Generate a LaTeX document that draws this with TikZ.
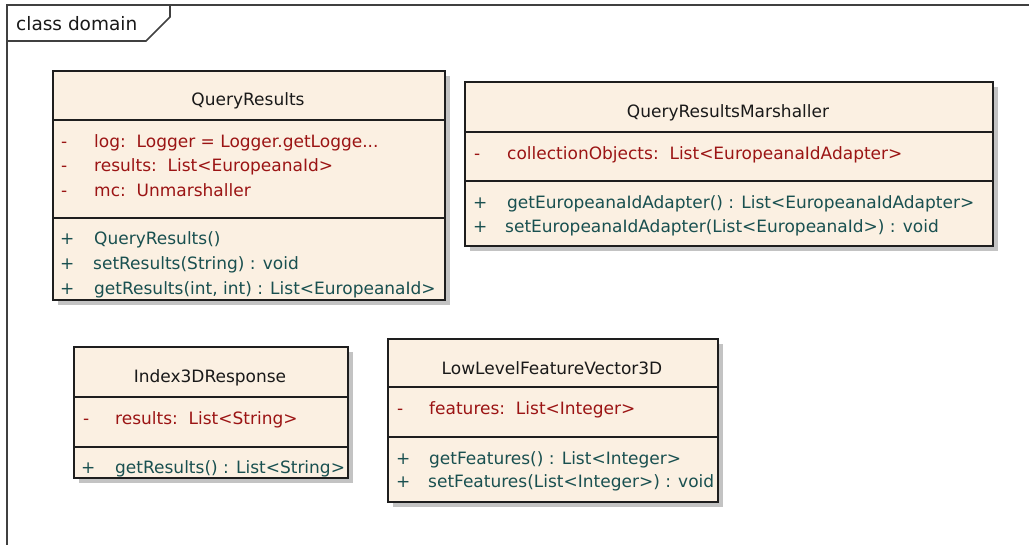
\documentclass[tikz,border=0pt]{standalone}
\usepackage{fontspec}
\setmainfont{DejaVu Sans}
\usetikzlibrary{shadows}
\definecolor{boxfill}{RGB}{251,240,226}
\definecolor{attrcol}{RGB}{155,20,20}
\definecolor{opcol}{RGB}{25,80,80}
\definecolor{framecol}{RGB}{64,64,64}
\definecolor{edgecol}{RGB}{30,30,30}
\definecolor{shadowcol}{RGB}{195,195,195}
\tikzset{
  classbox/.style={draw=edgecol, line width=1.6pt, fill=boxfill, anchor=north west, inner sep=0pt,
    drop shadow={shadow xshift=5pt, shadow yshift=-5pt, fill=shadowcol, opacity=1}},
  divider/.style={draw=edgecol, line width=1.4pt},
  txt/.style={anchor=west, inner sep=0pt, text height=15pt, text depth=1pt, font=\fontsize{17}{20}\selectfont},
  attr/.style={txt, text=attrcol},
  op/.style={txt, text=opcol},
  cname/.style={anchor=center, inner sep=0pt, text height=15pt, text depth=1pt, font=\fontsize{17}{20}\selectfont, text=black!90},
  framebox/.style={draw=framecol, line width=1.6pt}
}
\begin{document}
\begin{tikzpicture}[x=1pt,y=-1pt]
\useasboundingbox (0,0) rectangle (1029,544);
\clip (0,0) rectangle (1029,544);
\fill[white] (0,0) rectangle (1029,544);
% frame
\draw[framebox] (1040,5) -- (7,5) -- (7,560);
\draw[framebox] (7,41) -- (146,41) -- (170,17) -- (170,5);
\node[txt, font=\fontsize{18.5}{21}\selectfont, text=black!90] (title) at (16,23) {class domain};

% QueryResults
\node[classbox, minimum width=392pt, minimum height=229pt] (qr) at (52,70) {};
\draw[divider] (52,120) -- (444,120);
\draw[divider] (52,218) -- (444,218);
\node[cname] (qrn) at (248,98) {QueryResults};
\node[attr] (qra1s) at (61,140) {-};
\node[attr] (qra1) at (94,140) {log:\ \ Logger = Logger.getLogge...};
\node[attr] (qra2s) at (61,164) {-};
\node[attr] (qra2) at (94,164) {results:\ \ List<EuropeanaId>};
\node[attr] (qra3s) at (61,189) {-};
\node[attr] (qra3) at (94,189) {mc:\ \ Unmarshaller};
\node[op] (qro1s) at (60,237) {+};
\node[op] (qro1) at (94,237) {QueryResults()};
\node[op] (qro2s) at (60,262) {+};
\node[op] (qro2) at (93,262) {setResults(String) : void};
\node[op] (qro3s) at (60,287) {+};
\node[op] (qro3) at (94,287) {getResults(int, int) : List<EuropeanaId>};

% QueryResultsMarshaller
\node[classbox, minimum width=528pt, minimum height=164pt] (qrm) at (464,81) {};
\draw[divider] (464,132) -- (992,132);
\draw[divider] (464,181) -- (992,181);
\node[cname] (qrmn) at (728,110) {QueryResultsMarshaller};
\node[attr] (qrma1s) at (474,152) {-};
\node[attr] (qrma1) at (507,152) {collectionObjects:\ \ List<EuropeanaIdAdapter>};
\node[op] (qrmo1s) at (473,201) {+};
\node[op] (qrmo1) at (507,201) {getEuropeanaIdAdapter() : List<EuropeanaIdAdapter>};
\node[op] (qrmo2s) at (473,225) {+};
\node[op] (qrmo2) at (505,225) {setEuropeanaIdAdapter(List<EuropeanaId>) : void};

% Index3DResponse
\node[classbox, minimum width=274pt, minimum height=131pt] (idx) at (73,346) {};
\draw[divider] (73,397) -- (347,397);
\draw[divider] (73,447) -- (347,447);
\node[cname] (idxn) at (210,375) {Index3DResponse};
\node[attr] (idxa1s) at (83,417) {-};
\node[attr] (idxa1) at (115,417) {results:\ \ List<String>};
\node[op] (idxo1s) at (81,466) {+};
\node[op] (idxo1) at (115,466) {getResults() : List<String>};

% LowLevelFeatureVector3D
\node[classbox, minimum width=330pt, minimum height=163pt] (llf) at (387,338) {};
\draw[divider] (387,387) -- (717,387);
\draw[divider] (387,437) -- (717,437);
\node[cname] (llfn) at (552,367) {LowLevelFeatureVector3D};
\node[attr] (llfa1s) at (397,407) {-};
\node[attr] (llfa1) at (429,407) {features:\ \ List<Integer>};
\node[op] (llfo1s) at (396,457) {+};
\node[op] (llfo1) at (429,457) {getFeatures() : List<Integer>};
\node[op] (llfo2s) at (396,480) {+};
\node[op] (llfo2) at (428,480) {setFeatures(List<Integer>) : void};
\end{tikzpicture}
\end{document}
